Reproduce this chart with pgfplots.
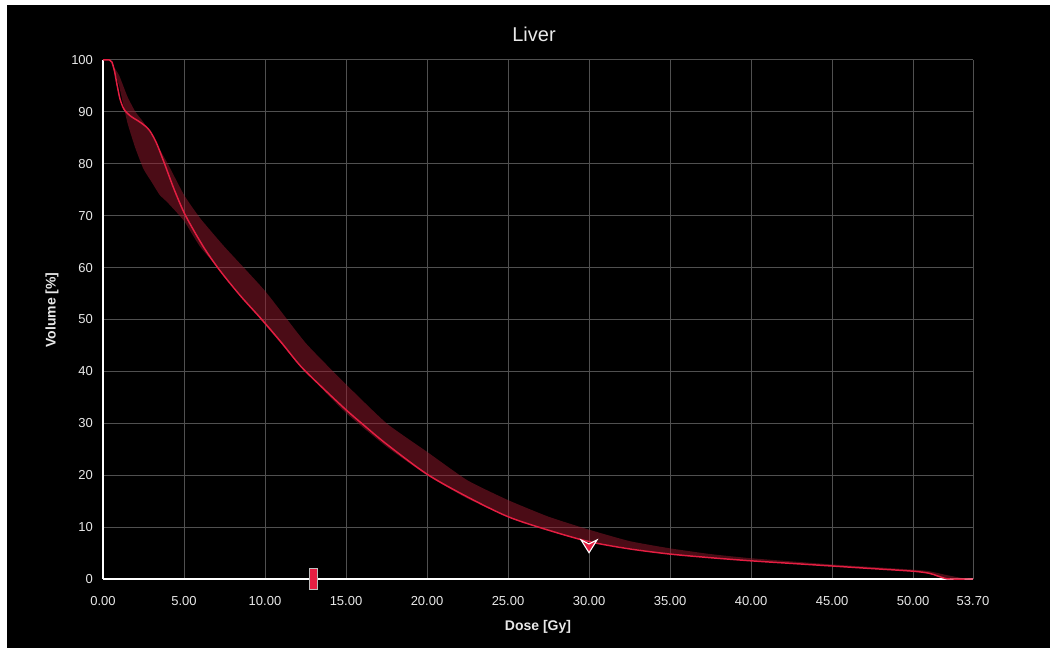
\documentclass[border=0pt]{standalone}
\usepackage{pgfplots}
\pgfplotsset{compat=1.18}
\usepackage{fontspec}
\setmainfont{Liberation Sans}
\definecolor{linered}{RGB}{228,30,66}
\definecolor{bandred}{RGB}{150,25,45}
\definecolor{gridgray}{RGB}{80,80,80}
\definecolor{txt}{RGB}{232,232,232}
\pgfdeclareplotmark{chevron}{%
 \pgfpathmoveto{\pgfqpoint{-\pgfplotmarksize}{0.6\pgfplotmarksize}}%
 \pgfpathlineto{\pgfqpoint{0pt}{-\pgfplotmarksize}}%
 \pgfpathlineto{\pgfqpoint{\pgfplotmarksize}{0.6\pgfplotmarksize}}%
 \pgfpathlineto{\pgfqpoint{0pt}{0.1\pgfplotmarksize}}%
 \pgfpathclose\pgfusepathqfillstroke}
\begin{document}
\begin{tikzpicture}[x=0.75pt,y=0.75pt]
\fill[white] (0,0) rectangle (1050,648);
\fill[black] (7,0) rectangle (1050,643);
\node[txt, font=\fontsize{15}{18}\selectfont] at (534,614) {Liver};
\node[txt, font=\bfseries\fontsize{10.5}{12}\selectfont] at (538,21) {Dose [Gy]};
\node[txt, font=\bfseries\fontsize{10.5}{12}\selectfont, rotate=90] at (52,338) {Volume [\%]};
\begin{axis}[
  at={(77.25pt,51.75pt)}, anchor=south west,
  scale only axis, width=652.5pt, height=389.25pt,
  xmin=0, xmax=53.7, ymin=0, ymax=100,
  axis lines=left, axis line style={-, draw=white, line width=1.4pt},
  xtick={0,5,10,15,20,25,30,35,40,45,50,53.7},
  xticklabels={0.00,5.00,10.00,15.00,20.00,25.00,30.00,35.00,40.00,45.00,50.00,53.70},
  ytick={0,10,20,30,40,50,60,70,80,90,100},
  yticklabels={0,10,20,30,40,50,60,70,80,90,100},
  major tick length=0pt,
  grid=major, grid style={gridgray, line width=0.75pt},
  tick label style={txt, font=\fontsize{9.75}{11}\selectfont},
  xticklabel style={yshift=-9.5pt},
  yticklabel style={xshift=-4pt},
  clip=false,
]
\addplot[fill=bandred, fill opacity=0.5, draw=none, smooth, tension=0.3] coordinates {
(0.5,99.5)(1,97)(1.5,93)(2,90)(2.5,88)(3,85.5)(4,80)(5,74)(6,69.5)(7.5,64)(10,55.5)(12.5,45.5)(15,37.5)(17.5,30)(20,24.5)(22.5,19)(25,15.2)(27.5,12)(30,9.5)(32.5,7.3)(35,5.9)(37.5,4.8)(40,4)(45,2.8)(50,1.8)(51,1.5)(52,0.8)(53,0.2)(53.7,0)
(52.5,0)(52,0.2)(51,1)(50,1.5)(45,2.5)(40,3.5)(35,4.8)(30,7.2)(27.5,9.3)(25,12)(22.5,15.5)(20,20)(17.5,25.5)(15,32)(12.5,40)(10,49)(7.5,58.5)(6,64)(5,69)(4,72.5)(3.5,74)(3,76.5)(2.5,79)(2,83)(1.5,88)(1,95)} -- cycle;
\addplot[linered, line width=1.1pt, smooth, tension=0.5] coordinates {
(0,100)(0.4,100)(0.55,99.6)(0.7,98)(0.85,95.5)(1.05,92.5)(1.3,90.5)(1.7,89.2)(2.2,88.2)(2.6,87.3)(2.9,86.3)(3.3,84)(3.8,80)(4.4,75)(5.1,70)(6.2,64)(7.2,59.5)(8.5,54.5)(9.8,50)(11,45.6)(12.2,41)(13.5,37)(15,32.6)(16,29.9)(17.5,26)(20,20.2)(22.5,15.8)(25,12)(27.5,9.4)(30,7.2)(32.5,5.8)(35,4.8)(37.5,4.1)(40,3.5)(42.5,3.0)(45,2.5)(47.5,2.0)(50,1.5)(51,1.1)(51.5,0.6)(52,0.1)(52.3,0)(53.7,0)};
\addplot[only marks, mark=chevron, mark size=6pt, mark options={fill=linered, draw=white, line width=0.8pt}] coordinates {(30,6.6)};
\addplot[only marks, mark=square*, mark size=7.9pt, mark options={xscale=0.38, fill=linered, draw=lightgray, line width=0.9pt}] coordinates {(13,0)};
\end{axis}
\end{tikzpicture}
\end{document}
